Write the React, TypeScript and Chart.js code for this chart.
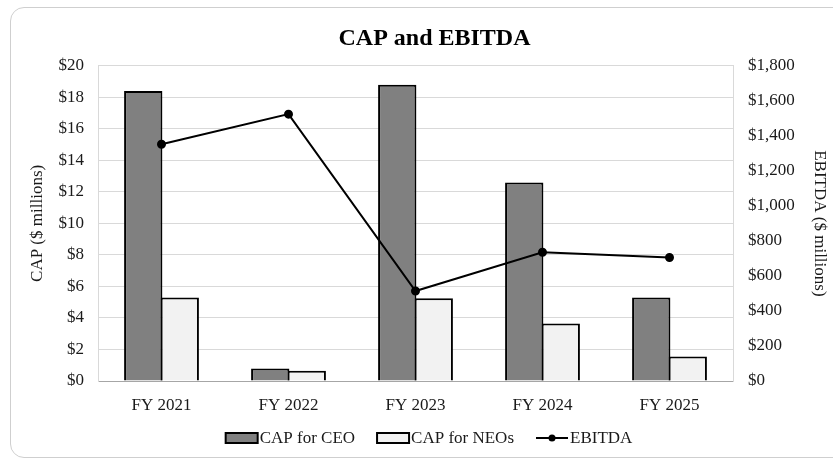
import { useEffect, useRef } from "react";
import { Chart, registerables } from "chart.js";

Chart.register(...registerables);

const categories = ["FY 2021", "FY 2022", "FY 2023", "FY 2024", "FY 2025"];
const capCeo = [18.4, 0.8, 18.8, 12.6, 5.3];
const capNeo = [5.3, 0.65, 5.25, 3.65, 1.55];
const ebitda = [1352, 1524, 514, 735, 705];
const legendLabels = ["CAP for CEO", "CAP for NEOs", "EBITDA"];
const chartTitle = "CAP and EBITDA";
const leftAxisTitle = "CAP ($ millions)";
const rightAxisTitle = "EBITDA ($ millions)";

const FONT = "'Liberation Serif', 'Times New Roman', serif";
const TEXT = "#1a1a1a";

const legendPlugin = {
  id: "customLegend",
  afterDraw(chart: any) {
    const ctx = chart.ctx as CanvasRenderingContext2D;
    ctx.save();
    ctx.font = `17px ${FONT}`;
    const y = chart.chartArea.bottom + 57;
    const boxW = 32;
    const boxH = 10;
    const gapText = 2;
    const itemGap = 22;
    const widths = legendLabels.map((t) => ctx.measureText(t).width);
    const total =
      boxW * legendLabels.length +
      gapText * legendLabels.length +
      widths.reduce((a, b) => a + b, 0) +
      itemGap * (legendLabels.length - 1);
    let x = 429 - total / 2;
    chart.data.datasets.forEach((ds: any, i: number) => {
      if (ds.type === "line") {
        ctx.strokeStyle = "#000";
        ctx.lineWidth = 2;
        ctx.beginPath();
        ctx.moveTo(x, y);
        ctx.lineTo(x + boxW, y);
        ctx.stroke();
        ctx.fillStyle = "#000";
        ctx.beginPath();
        ctx.arc(x + boxW / 2, y, 3.5, 0, Math.PI * 2);
        ctx.fill();
      } else {
        ctx.fillStyle = ds.backgroundColor;
        ctx.fillRect(x, y - boxH / 2, boxW, boxH);
        ctx.strokeStyle = "#000";
        ctx.lineWidth = 2;
        ctx.strokeRect(x, y - boxH / 2, boxW, boxH);
      }
      x += boxW + gapText;
      ctx.fillStyle = TEXT;
      ctx.textBaseline = "middle";
      ctx.textAlign = "left";
      ctx.fillText(legendLabels[i], x, y + 1);
      x += widths[i] + itemGap;
    });
    ctx.restore();
  },
};

export default function App() {
  const ref = useRef<HTMLCanvasElement | null>(null);

  useEffect(() => {
    if (!ref.current) return;
    const chart = new Chart(ref.current, {
      type: "bar",
      data: {
        labels: categories,
        datasets: [
          {
            type: "bar",
            label: legendLabels[0],
            data: capCeo,
            backgroundColor: "#808080",
            borderColor: "#000",
            borderWidth: 2,
            yAxisID: "y",
            order: 1,
            barPercentage: 1.05,
            categoryPercentage: 0.575,
          },
          {
            type: "bar",
            label: legendLabels[1],
            data: capNeo,
            backgroundColor: "#f2f2f2",
            borderColor: "#000",
            borderWidth: 2,
            yAxisID: "y",
            order: 2,
            barPercentage: 1.05,
            categoryPercentage: 0.575,
          },
          {
            type: "line",
            label: legendLabels[2],
            data: ebitda,
            borderColor: "#000",
            backgroundColor: "#000",
            borderWidth: 2,
            pointRadius: 3.5,
            pointBackgroundColor: "#000",
            pointBorderColor: "#000",
            yAxisID: "y1",
            order: 0,
            tension: 0,
          } as any,
        ],
      },
      options: {
        responsive: false,
        animation: false,
        devicePixelRatio: 1,
        layout: { padding: { top: 7, left: 0, right: -36, bottom: 38 } },
        plugins: {
          legend: { display: false },
          tooltip: { enabled: false },
          title: {
            display: true,
            text: chartTitle,
            color: "#000",
            font: { family: FONT, size: 24, weight: "bold" },
            padding: { top: 17, bottom: 13 },
          },
        },
        scales: {
          x: {
            grid: { display: false, drawTicks: false },
            border: { display: true, color: "#a6a6a6", width: 1 },
            ticks: { color: TEXT, font: { family: FONT, size: 17 }, padding: 14 },
            afterFit: (s: any) => {
              s.height = 40;
            },
          },
          y: {
            position: "left",
            min: 0,
            max: 20,
            ticks: {
              stepSize: 2,
              color: TEXT,
              font: { family: FONT, size: 17 },
              padding: 14,
              callback: (v: any) => "$" + v,
            },
            grid: { color: "#d9d9d9", lineWidth: 1, drawTicks: false },
            border: { display: true, color: "#d9d9d9" },
            title: {
              display: true,
              text: leftAxisTitle,
              color: TEXT,
              font: { family: FONT, size: 17 },
              padding: { top: 27, bottom: 0 },
            },
            afterFit: (s: any) => {
              s.width = 98;
            },
          },
          y1: {
            position: "right",
            min: 0,
            max: 1800,
            ticks: {
              stepSize: 200,
              color: TEXT,
              font: { family: FONT, size: 17 },
              padding: 15,
              callback: (v: any) => "$" + Number(v).toLocaleString("en-US"),
            },
            grid: { display: false, drawTicks: false },
            border: { display: true, color: "#d9d9d9" },
            title: {
              display: true,
              text: rightAxisTitle,
              color: TEXT,
              font: { family: FONT, size: 17 },
              padding: { top: 39, bottom: 0 },
            },
            afterFit: (s: any) => {
              s.width = 136;
            },
          },
        },
      },
      plugins: [legendPlugin],
    });
    return () => chart.destroy();
  }, []);

  return (
    <div
      style={{
        position: "absolute",
        left: 0,
        top: 0,
        width: 833,
        height: 459,
        overflow: "hidden",
        background: "#fff",
      }}
    >
      <div
        style={{
          position: "absolute",
          left: 10,
          top: 7,
          width: 880,
          height: 451,
          border: "1px solid #cfcfcf",
          borderRadius: 14,
          boxSizing: "border-box",
        }}
      />
      <canvas
        ref={ref}
        width={833}
        height={459}
        style={{ position: "absolute", left: 0, top: 0, width: 833, height: 459 }}
      />
    </div>
  );
}
